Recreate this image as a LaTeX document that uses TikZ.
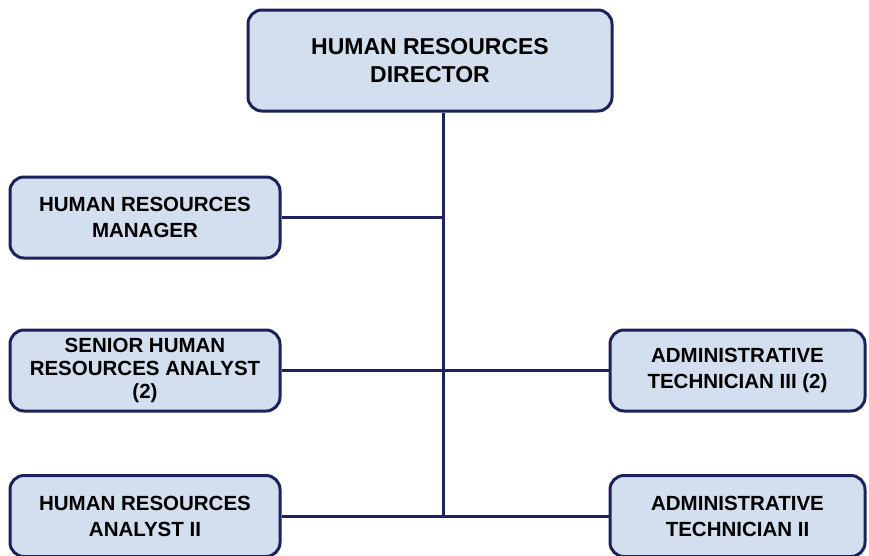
\documentclass[tikz,border=0pt]{standalone}
\usepackage{fontspec}
\setmainfont{Liberation Sans}
\usetikzlibrary{positioning}
\definecolor{boxfill}{RGB}{211,223,238}
\definecolor{boxline}{RGB}{28,34,92}
\tikzset{post/.style={draw=boxline, fill=boxfill, line width=3pt, rounded corners=14pt, align=center, inner sep=0pt,
    font=\bfseries\fontsize{20.5}{26}\selectfont, minimum width=270pt, minimum height=81pt},
  link/.style={draw=boxline, line width=3pt}}
\begin{document}
\begin{tikzpicture}[x=1pt,y=-1pt]
    \useasboundingbox (0,0) rectangle (869,555);

            \node[post, minimum width=364pt, minimum height=101pt, font=\bfseries\fontsize{23}{28}\selectfont] (dir) at (430,60.5) {HUMAN RESOURCES\\DIRECTOR};

            \node[post] (mgr) at (145,217.5) {HUMAN RESOURCES\\MANAGER};
            \node[post, font=\bfseries\fontsize{20.5}{23}\selectfont] (sen) at (145,370.5) {SENIOR HUMAN\\RESOURCES ANALYST\\(2)};
            \node[post] (ana) at (145,516) {HUMAN RESOURCES\\ANALYST II};

            \node[post, minimum width=255pt] (tec3) at (737.5,370.5) {ADMINISTRATIVE\\TECHNICIAN III (2)};
            \node[post, minimum width=255pt] (tec2) at (737.5,516) {ADMINISTRATIVE\\TECHNICIAN II};

            \coordinate (trunk) at (443.5,516);

            \draw[link] (dir.south -| trunk) -- (trunk);
            \draw[link] (mgr.east) -- (mgr.east -| trunk);
            \draw[link] (sen.east) -- (tec3.west);
            \draw[link] (ana.east) -- (tec2.west);

\end{tikzpicture}
\end{document}
